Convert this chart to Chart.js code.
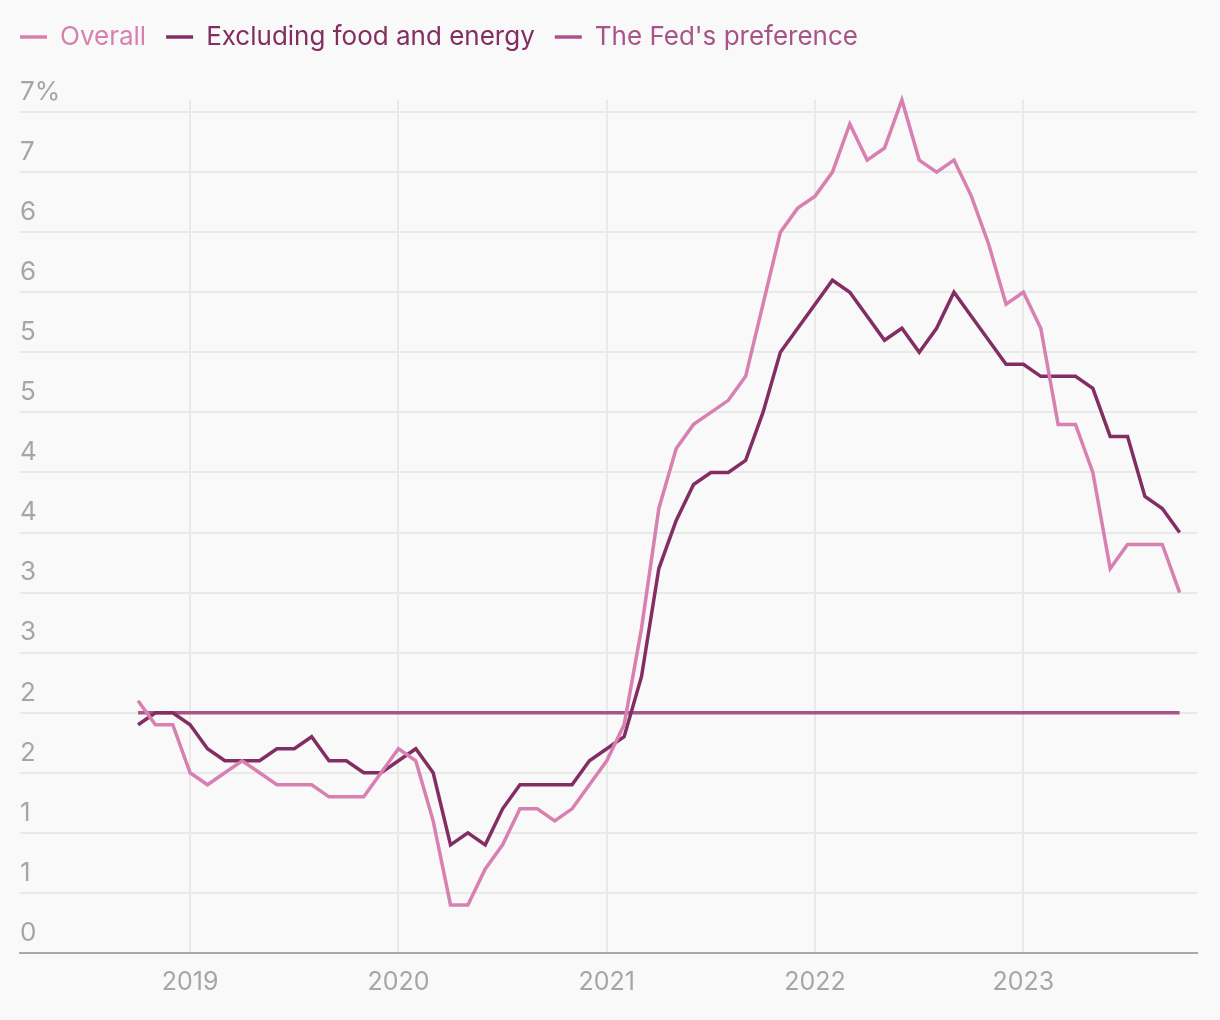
<!DOCTYPE html>
<html>
<head>
<meta charset="utf-8">
<title>Inflation</title>
<script src="https://cdn.jsdelivr.net/npm/chart.js@4.4.1/dist/chart.umd.min.js"></script>
<style>
    html, body { margin: 0; padding: 0; background: #f9f9f9; }
    #wrap { position: relative; width: 1220px; height: 1020px; }
</style>
</head>
<body>
<div id="wrap"><canvas id="chart"></canvas></div>
<script>
    // Monthly readings, year over year (%)
    const months = [
        '2018-10', '2018-11', '2018-12',
        '2019-01', '2019-02', '2019-03', '2019-04', '2019-05', '2019-06',
        '2019-07', '2019-08', '2019-09', '2019-10', '2019-11', '2019-12',
        '2020-01', '2020-02', '2020-03', '2020-04', '2020-05', '2020-06',
        '2020-07', '2020-08', '2020-09', '2020-10', '2020-11', '2020-12',
        '2021-01', '2021-02', '2021-03', '2021-04', '2021-05', '2021-06',
        '2021-07', '2021-08', '2021-09', '2021-10', '2021-11', '2021-12',
        '2022-01', '2022-02', '2022-03', '2022-04', '2022-05', '2022-06',
        '2022-07', '2022-08', '2022-09', '2022-10', '2022-11', '2022-12',
        '2023-01', '2023-02', '2023-03', '2023-04', '2023-05', '2023-06',
        '2023-07', '2023-08', '2023-09', '2023-10'
    ];

    const overall = [
        2.1, 1.9, 1.9,
        1.5, 1.4, 1.5, 1.6, 1.5, 1.4, 1.4, 1.4, 1.3, 1.3, 1.3, 1.5,
        1.7, 1.6, 1.1, 0.4, 0.4, 0.7, 0.9, 1.2, 1.2, 1.1, 1.2, 1.4,
        1.6, 1.9, 2.7, 3.7, 4.2, 4.4, 4.5, 4.6, 4.8, 5.4, 6.0, 6.2,
        6.3, 6.5, 6.9, 6.6, 6.7, 7.1, 6.6, 6.5, 6.6, 6.3, 5.9, 5.4,
        5.5, 5.2, 4.4, 4.4, 4.0, 3.2, 3.4, 3.4, 3.4, 3.0
    ];

    const core = [
        1.9, 2.0, 2.0,
        1.9, 1.7, 1.6, 1.6, 1.6, 1.7, 1.7, 1.8, 1.6, 1.6, 1.5, 1.5,
        1.6, 1.7, 1.5, 0.9, 1.0, 0.9, 1.2, 1.4, 1.4, 1.4, 1.4, 1.6,
        1.7, 1.8, 2.3, 3.2, 3.6, 3.9, 4.0, 4.0, 4.1, 4.5, 5.0, 5.2,
        5.4, 5.6, 5.5, 5.3, 5.1, 5.2, 5.0, 5.2, 5.5, 5.3, 5.1, 4.9,
        4.9, 4.8, 4.8, 4.8, 4.7, 4.3, 4.3, 3.8, 3.7, 3.5
    ];

    const fedTarget = 2;

    const yearTicks = [2019, 2020, 2021, 2022, 2023];
    const percentTicks = [0, 0.5, 1, 1.5, 2, 2.5, 3, 3.5, 4, 4.5, 5, 5.5, 6, 6.5, 7];

    const COLOR_OVERALL = '#d880b1';
    const COLOR_CORE = '#832e62';
    const COLOR_FED = '#a75589';
    const TICK_COLOR = '#a6a6a6';
    const FONT = 'Inter, "Noto Sans", sans-serif';

    // months since Jan 2019
    function monthIndex(s) {
        const parts = s.split('-');
        return (parseInt(parts[0], 10) - 2019) * 12 + (parseInt(parts[1], 10) - 1);
    }

    function toPoints(values) {
        return values.map((v, i) => ({ x: monthIndex(months[i]), y: v }));
    }

    const fedLine = [
        { x: monthIndex(months[0]), y: fedTarget },
        { x: monthIndex(months[months.length - 1]), y: fedTarget }
    ];

    // extra room between legend and plot
    const legendSpacer = {
        id: 'legendSpacer',
        beforeInit(chart) {
            const origFit = chart.legend.fit;
            chart.legend.fit = function fit() {
                origFit.bind(chart.legend)();
                this.height += 40;
            };
        }
    };

    function lineDataset(label, data, color) {
        return {
            label: label,
            data: data,
            borderColor: color,
            backgroundColor: color,
            borderWidth: 3.5,
            pointRadius: 0,
            tension: 0,
            clip: false
        };
    }

    const ctx = document.getElementById('chart').getContext('2d');

    new Chart(ctx, {
        type: 'line',
        data: {
            datasets: [
                lineDataset('Overall', toPoints(overall), COLOR_OVERALL),
                lineDataset('Excluding food and energy', toPoints(core), COLOR_CORE),
                lineDataset("The Fed's preference", fedLine, COLOR_FED)
            ]
        },
        options: {
            responsive: true,
            maintainAspectRatio: false,
            animation: false,
            layout: {
                padding: { left: 0, right: 23, top: 4, bottom: 9 }
            },
            plugins: {
                legend: {
                    position: 'top',
                    align: 'start',
                    labels: {
                        usePointStyle: true,
                        pointStyle: 'line',
                        pointStyleWidth: 27,
                        padding: 20,
                        font: { family: FONT, size: 26 },
                        generateLabels: function(chart) {
                            const items = Chart.defaults.plugins.legend.labels.generateLabels(chart);
                            items.forEach(item => {
                                item.fontColor = chart.data.datasets[item.datasetIndex].borderColor;
                            });
                            return items;
                        }
                    }
                },
                tooltip: { enabled: false }
            },
            scales: {
                x: {
                    type: 'linear',
                    min: -9.8,
                    max: 58,
                    afterBuildTicks: function(scale) {
                        scale.ticks = yearTicks.map(y => ({ value: (y - 2019) * 12 }));
                    },
                    ticks: {
                        color: TICK_COLOR,
                        font: { family: FONT, size: 25 },
                        padding: 14,
                        maxRotation: 0,
                        callback: function(value) {
                            return String(2019 + value / 12);
                        }
                    },
                    grid: {
                        color: '#e9e9e9',
                        lineWidth: 2,
                        drawTicks: false
                    },
                    border: {
                        color: '#a9a9a9',
                        width: 2
                    }
                },
                y: {
                    min: 0,
                    max: 7.1,
                    afterBuildTicks: function(scale) {
                        scale.ticks = percentTicks.map(v => ({ value: v }));
                    },
                    afterFit: function(scale) {
                        scale.width = 20;
                    },
                    ticks: {
                        mirror: true,
                        padding: 0,
                        labelOffset: -20,
                        color: TICK_COLOR,
                        font: { family: FONT, size: 26 },
                        callback: function(value) {
                            return value === 7 ? '7%' : String(Math.round(value));
                        }
                    },
                    grid: {
                        color: '#e9e9e9',
                        lineWidth: 2,
                        drawTicks: false
                    },
                    border: { display: false }
                }
            }
        },
        plugins: [legendSpacer]
    });
</script>
</body>
</html>
